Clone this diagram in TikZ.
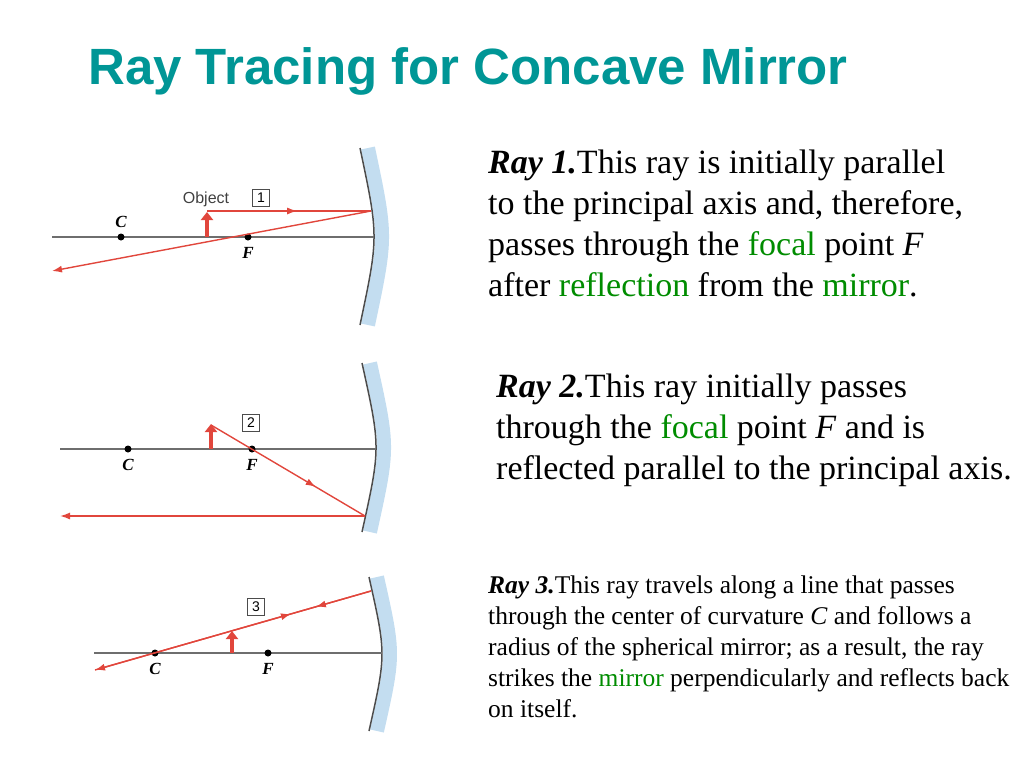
\documentclass[tikz,border=0pt]{standalone}
\usepackage{fontspec}
\setmainfont{Liberation Serif}
\setsansfont{Liberation Sans}
\usetikzlibrary{decorations.markings,arrows.meta}
\definecolor{ttl}{RGB}{0,150,150}
\definecolor{ray}{RGB}{225,70,60}
\definecolor{grn}{RGB}{0,140,0}
\definecolor{mblue}{RGB}{175,210,235}
\definecolor{axisc}{RGB}{110,110,110}
\newcommand{\gr}[1]{\textcolor{grn}{#1}}
\begin{document}
\begin{tikzpicture}[x=1pt,y=-1pt,
  axis/.style={axisc,line width=1.8pt},
  rayl/.style={ray,line width=1.4pt},
  endarr/.style={-{Latex[length=10pt,width=7pt]}},
  midarr/.style={postaction={decorate},decoration={markings,mark=at position #1 with {\arrow{Latex[length=10pt,width=7pt]}}}},
  obj/.style={ray,line width=3.2pt,-{Triangle[length=8pt,width=12pt]}},
  dot/.style={circle,fill=black,inner sep=0pt,minimum size=7pt},
  pl/.style={font=\bfseries\itshape\fontsize{17}{17}\selectfont},
  box/.style={draw=black!70,line width=0.8pt,font=\sffamily\fontsize{14}{14}\selectfont,inner sep=1.5pt,minimum size=17pt},
  mirror/.style={black!70,line width=1.5pt},
  glow/.style={mblue,line width=14pt,opacity=0.75},
  txt/.style={anchor=north west,inner sep=0pt,align=left}]
\useasboundingbox (0,0) rectangle (1024,768);
\node[anchor=west,font=\sffamily\bfseries\fontsize{51}{51}\selectfont,text=ttl,inner sep=0] (title) at (88,71) {Ray Tracing for Concave Mirror};

% ---------- Diagram 1
\draw[glow] (368,148) .. controls (386.7,236.5) .. (368,325);
\draw[mirror] (360,148) .. controls (378.7,236.5) .. (360,325);
\coordinate (a1l) at (52,237); \coordinate (a1r) at (374,237);
\draw[axis] (a1l) -- (a1r);
\node[dot] (C1) at (121,237) {}; \node[dot] (F1) at (248,237) {};
\node[pl] (C1l) at (121,222) {C}; \node[pl] (F1l) at (248,253) {F};
\coordinate (o1b) at (207,237); \coordinate (o1t) at (207,212);
\draw[obj] (o1b) -- (o1t);
\coordinate (r1s) at (207,211); \coordinate (m1) at (371,211); \coordinate (e1) at (52,271);
\draw[rayl,midarr=0.55] (r1s) -- (m1);
\draw[rayl,endarr] (m1) -- (e1);
\node[font=\sffamily\fontsize{16}{16}\selectfont,text=black!75] (ob) at (206,199) {Object};
\node[box] (b1) at (261,198) {1};

% ---------- Diagram 2
\draw[glow] (370,363) .. controls (388.7,447.5) .. (370,532);
\draw[mirror] (362,363) .. controls (380.7,447.5) .. (362,532);
\coordinate (a2l) at (60,449); \coordinate (a2r) at (376,449);
\draw[axis] (a2l) -- (a2r);
\node[dot] (C2) at (128,449) {}; \node[dot] (F2) at (252,449) {};
\node[pl] (C2l) at (128,465) {C}; \node[pl] (F2l) at (252,465) {F};
\coordinate (o2b) at (211,449); \coordinate (o2t) at (211,424);
\draw[obj] (o2b) -- (o2t);
\coordinate (r2s) at (211,425); \coordinate (m2) at (365,516); \coordinate (e2) at (60,516);
\draw[rayl,midarr=0.68] (r2s) -- (m2);
\draw[rayl,endarr] (m2) -- (e2);
\node[box] (b2) at (251,423) {2};

% ---------- Diagram 3
\draw[glow] (377,577) .. controls (394.3,654) .. (377,731);
\draw[mirror] (369,577) .. controls (386.3,654) .. (369,731);
\coordinate (a3l) at (94,653); \coordinate (a3r) at (382,653);
\draw[axis] (a3l) -- (a3r);
\node[dot] (C3) at (155,653) {}; \node[dot] (F3) at (268,653) {};
\node[pl] (C3l) at (155,669) {C}; \node[pl] (F3l) at (268,669) {F};
\coordinate (o3b) at (232,653); \coordinate (o3t) at (232,631);
\draw[obj] (o3b) -- (o3t);
\coordinate (m3) at (371,591); \coordinate (e3) at (95,670);
\draw[rayl,endarr,midarr=0.2] (m3) -- (e3);
\draw[rayl,postaction={decorate},decoration={markings,mark=at position 0.29 with {\arrowreversed{Latex[length=10pt,width=7pt]}}}] (m3) -- (e3);
\node[box] (b3) at (256,607) {3};

% ---------- Texts
\node[txt,font=\fontsize{34}{41}\selectfont] (t1) at (488,150)
{\textbf{\textit{Ray 1.}}This ray is initially parallel\\
to the principal axis and, therefore,\\
passes through the \gr{focal} point \textit{F}\\
after \gr{reflection} from the \gr{mirror}.};
\node[txt,font=\fontsize{34}{41}\selectfont] (t2) at (496,374)
{\textbf{\textit{Ray 2.}}This ray initially passes\\
through the \gr{focal} point \textit{F} and is\\
reflected parallel to the principal axis.};
\node[txt,font=\fontsize{25.5}{31}\selectfont] (t3) at (488,576)
{\textbf{\textit{Ray 3.}}This ray travels along a line that passes\\
through the center of curvature \textit{C} and follows a\\
radius of the spherical mirror; as a result, the ray\\
strikes the \gr{mirror} perpendicularly and reflects back\\
on itself.};
\end{tikzpicture}
\end{document}
